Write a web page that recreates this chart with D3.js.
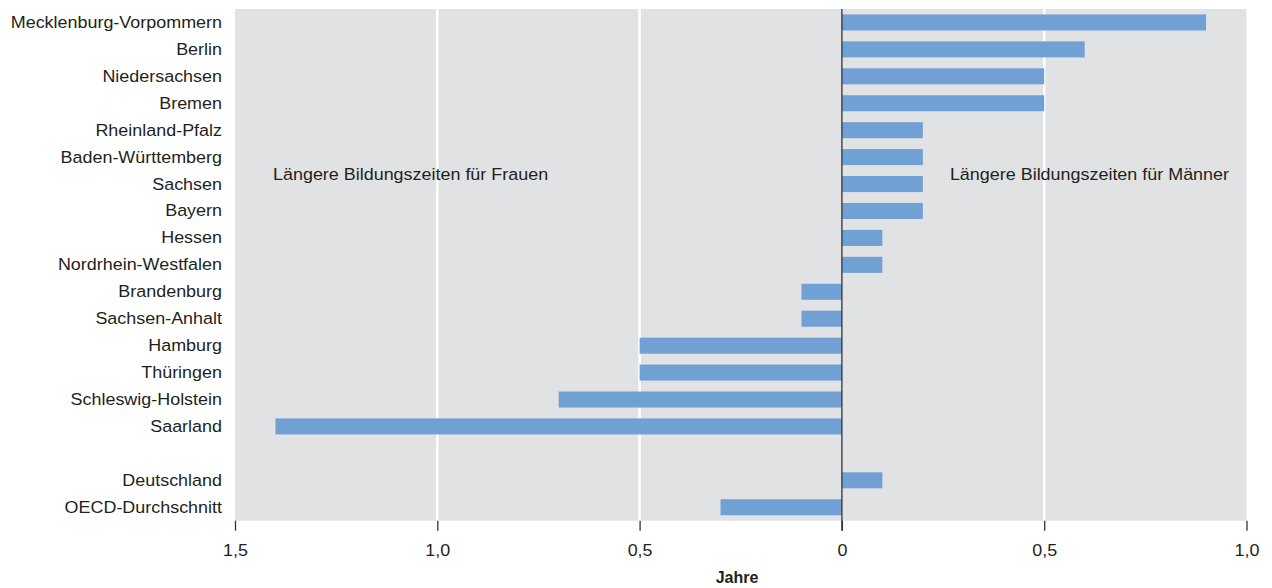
<!DOCTYPE html>
<html><head><meta charset="utf-8">
<script src="https://cdn.jsdelivr.net/npm/d3@7"></script>
<style>body{margin:0;background:#fff}svg{display:block;font-family:"Liberation Sans",Arial,sans-serif}</style>
</head><body><svg id="c" width="1272" height="588"></svg>
<script>
const categories = ["Mecklenburg-Vorpommern","Berlin","Niedersachsen","Bremen","Rheinland-Pfalz","Baden-Württemberg","Sachsen","Bayern","Hessen","Nordrhein-Westfalen","Brandenburg","Sachsen-Anhalt","Hamburg","Thüringen","Schleswig-Holstein","Saarland","","Deutschland","OECD-Durchschnitt"];
const values = [0.9,0.6,0.5,0.5,0.2,0.2,0.2,0.2,0.1,0.1,-0.1,-0.1,-0.5,-0.5,-0.7,-1.4,null,0.1,-0.3];
const tickValues = [-1.5,-1.0,-0.5,0,0.5,1.0];
const tickLabels = ["1,5","1,0","0,5","0","0,5","1,0"];
const axisTitle = "Jahre";
const noteLeft = "Längere Bildungszeiten für Frauen";
const noteRight = "Längere Bildungszeiten für Männer";

const svg = d3.select("#c");
const L = 235, R = 1246.5, T = 9, B = 520.7;
const x = d3.scaleLinear().domain([-1.5,1.0]).range([L,R]);
const y = d3.scaleBand().domain(d3.range(categories.length)).range([T,B]).paddingInner(0.405).paddingOuter(0.2025);
const txt = "#231f20";
const FS = 17, SX = 1.055;

function stext(px, py, s, anchor){
  svg.append("text").attr("transform",`translate(${px},${py}) scale(${SX},1)`)
    .attr("text-anchor",anchor).attr("font-size",FS).attr("fill",txt).text(s);
}

svg.append("rect").attr("x",L).attr("y",T).attr("width",R-L).attr("height",B-T).attr("fill","#e1e2e4");
[-1.0,-0.5,0.5].forEach(v=>{
  svg.append("line").attr("x1",x(v)).attr("x2",x(v)).attr("y1",T).attr("y2",B).attr("stroke","#fff").attr("stroke-width",2.5);
});
values.forEach((v,i)=>{
  if(v===null) return;
  svg.append("rect").attr("x",x(Math.min(0,v))).attr("width",Math.abs(x(v)-x(0)))
    .attr("y",y(i)).attr("height",y.bandwidth()).attr("fill","#70a0d4");
});
svg.append("line").attr("x1",x(0)).attr("x2",x(0)).attr("y1",T).attr("y2",B+10).attr("stroke","#333").attr("stroke-width",1.3);

categories.forEach((c,i)=>{
  stext(L-13, y(i)+y.bandwidth()/2+5.5, c, "end");
});

const ax = svg.append("g").attr("transform",`translate(0,${B})`)
  .call(d3.axisBottom(x).tickValues(tickValues).tickFormat((d,i)=>tickLabels[i]).tickSize(10).tickPadding(13.2));
ax.select(".domain").remove();
ax.selectAll(".tick line").attr("stroke","#333").attr("stroke-width",1.3);
ax.selectAll(".tick text").attr("font-size",FS).attr("fill",txt).attr("font-family","Liberation Sans, Arial, sans-serif")
  .attr("transform",`scale(${SX},1)`).attr("x",0);

svg.append("text").attr("x",737).attr("y",583.3).attr("text-anchor","middle").attr("font-size",16).attr("font-weight","bold").attr("fill",txt).text(axisTitle);
const cy = y(6)+y.bandwidth()/2 - 4.5;
stext(273, cy, noteLeft, "start");
stext(1229, cy, noteRight, "end");
</script></body></html>
